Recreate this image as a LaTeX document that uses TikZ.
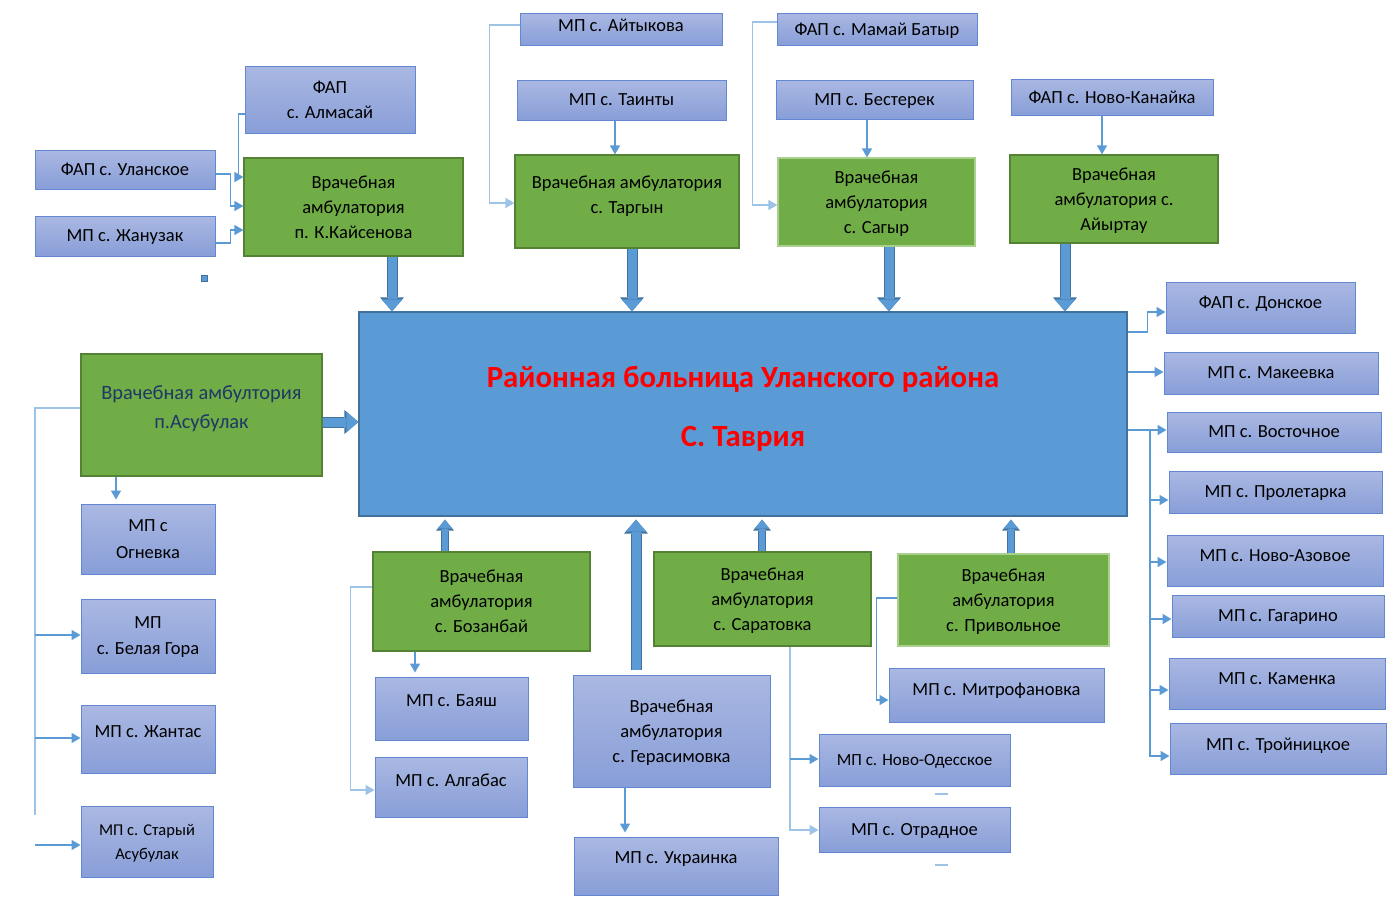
\documentclass[tikz,border=0pt]{standalone}
\usepackage{fontspec}
\setmainfont{Carlito}
\usetikzlibrary{arrows.meta}

\definecolor{mpTop}{RGB}{170,184,226}
\definecolor{mpBot}{RGB}{136,158,216}
\definecolor{mpLine}{RGB}{100,135,210}
\definecolor{vaFill}{RGB}{112,173,71}
\definecolor{vaLine}{RGB}{84,130,53}
\definecolor{vaPale}{RGB}{169,208,142}
\definecolor{hospFill}{RGB}{91,155,213}
\definecolor{hospLine}{RGB}{65,113,156}
\definecolor{linkCol}{RGB}{91,155,213}
\definecolor{linkPale}{RGB}{157,195,230}
\definecolor{asuText}{RGB}{31,56,100}

\tikzset{
  box/.style 2 args={minimum width=#1pt, minimum height=#2pt},
  lift/.style={text depth=#1pt},
  mp/.style={draw=mpLine, line width=1pt, top color=mpTop, bottom color=mpBot, text depth=0pt,
    inner sep=0pt, align=center, font=\fontsize{18.5}{25}\selectfont},
  va/.style={draw=vaLine, line width=1.2pt, fill=vaFill, text depth=0pt,
    inner sep=0pt, align=center, font=\fontsize{18.5}{25}\selectfont},
  hosp/.style={draw=hospLine, line width=1.3pt, fill=hospFill, text=red,
    inner sep=0pt, align=center, font=\bfseries\fontsize{30.8}{35}\selectfont},
  link/.style={draw=linkCol, line width=1.5pt, -{Triangle[width=10pt,length=9pt]}},
  wire/.style={draw=linkPale, line width=1.2pt},
  feed/.style={draw=hospFill, line width=9pt, -{Triangle[width=21pt,length=12pt,line width=0pt]},
    preaction={draw=hospLine, line width=11pt, -{Triangle[width=24pt,length=14pt,line width=0pt]}}},
  smallfeed/.style={draw=hospFill, line width=6pt, -{Triangle[width=15pt,length=9pt,line width=0pt]},
    preaction={draw=hospLine, line width=8pt, -{Triangle[width=18pt,length=11pt,line width=0pt]}}}
}

\begin{document}
\begin{tikzpicture}[x=1pt, y=-1pt]
  \useasboundingbox (0,0) rectangle (1396,903);

  % central hospital
  \node[hosp, box={768}{204}, lift=15] (hosp) at (743,414)
    {Районная больница Уланского района\\[24pt]С. Таврия};

  % top left: Kaisenova
  \node[mp, box={170}{67}] (alm) at (330,99.5) {ФАП\\с. Алмасай};
  \node[mp, box={180}{39}] (ulan) at (125,169.5) {ФАП с. Уланское};
  \node[mp, box={180}{40}] (zhan) at (125,236) {МП с. Жанузак};
  \node[va, box={219}{98}] (kais) at (353.5,207) {Врачебная\\амбулатория\\п. К.Кайсенова};
  \draw[draw=hospLine, fill=hospFill] (201,275) rectangle (207,281);

  \draw[link] (alm.west |- 0,114) -- ++(-6,0) |- (kais.west |- 0,177);
  \draw[link] (ulan.east |- 0,174) -- ++(15,0) |- (kais.west |- 0,206);
  \draw[link] (zhan.east |- 0,243) -- ++(15,0) |- (kais.west |- 0,230);

  % top middle: Targyn
  \node[mp, box={202}{32}, lift=8] (ait) at (621,29) {МП с. Айтыкова};
  \node[mp, box={209}{40}] (tain) at (621.5,100) {МП с. Таинты};
  \node[va, box={224}{93}, lift=14] (targ) at (627,201.5) {Врачебная амбулатория\\с. Таргын};
  \draw[link, draw=linkPale, line width=1.2pt] (ait.west |- 0,25) -- ++(-30,0) |- (targ.west |- 0,203);
  \draw[link] (tain.south -| 615,0) -- (targ.north -| 615,0);

  % top middle: Sagyr
  \node[mp, box={200}{32}] (mam) at (877,29) {ФАП с. Мамай Батыр};
  \node[mp, box={197}{39}] (best) at (874.5,99.5) {МП с. Бестерек};
  \node[va, draw=vaPale, box={197}{88}] (sag) at (876.5,202) {Врачебная\\амбулатория\\с. Сагыр};
  \draw[link, draw=linkPale, line width=1.2pt] (mam.west |- 0,22) -- ++(-24,0) |- (sag.west |- 0,205);
  \draw[link] (best.south -| 867,0) -- (sag.north -| 867,0);

  % top right: Aiyrtau
  \node[mp, box={202}{36}] (nkan) at (1112,97) {ФАП с. Ново-Канайка};
  \node[va, box={208}{88}] (ayr) at (1114,199) {Врачебная\\амбулатория с.\\Айыртау};
  \draw[link] (nkan.south -| 1102,0) -- (ayr.north -| 1102,0);

  % ambulatories into the hospital
  \draw[feed] (kais.south -| 392,0) -- (hosp.north -| 392,0);
  \draw[feed] (targ.south -| 632,0) -- (hosp.north -| 632,0);
  \draw[feed] (sag.south -| 889,0) -- (hosp.north -| 889,0);
  \draw[feed] (ayr.south -| 1065,0) -- (hosp.north -| 1065,0);

  % left: Asubulak
  \node[va, box={241}{122}, text=asuText, lift=15, font=\fontsize{20.4}{29}\selectfont] (asu) at (201.5,415)
    {Врачебная амбултория\\п.Асубулак};
  \node[mp, box={134}{70}, font=\fontsize{18.5}{27}\selectfont] (ogn) at (148,539) {МП с\\Огневка};
  \node[mp, box={134}{74}, font=\fontsize{18.5}{26}\selectfont] (bel) at (148,636) {МП\\с. Белая Гора};
  \node[mp, box={134}{68}, lift=14] (zhant) at (148,739) {МП с. Жантас};
  \node[mp, box={132}{71}, font=\fontsize{16.5}{24}\selectfont] (star) at (147,841.5) {МП с. Старый\\Асубулак};
  \draw[feed] (asu.east |- 0,422) -- (hosp.west |- 0,422);
  \draw[link] (asu.south -| 116,0) -- ([yshift=4pt]ogn.north -| 116,0);

  \coordinate (busL) at (35,408);
  \coordinate (busLend) at (35,815);
  \coordinate (busLlow) at (35,845);
  \draw[wire] (asu.west |- busL) -- (busL) -- (busLend);
  \draw[link] (busL |- 0,635) -- (bel.west |- 0,635);
  \draw[link] (busL |- 0,738) -- (zhant.west |- 0,738);
  \draw[link] (busLlow) -- (star.west |- busLlow);

  % bottom: Bozanbai and Gerasimovka
  \node[va, box={217}{99}] (boz) at (481.5,601.5) {Врачебная\\амбулатория\\с. Бозанбай};
  \node[mp, box={153}{63}, lift=16] (bay) at (451.5,708.5) {МП с. Баяш};
  \node[mp, box={152}{60}, lift=14] (alg) at (451,787) {МП с. Алгабас};
  \node[mp, box={197}{112}] (ger) at (671.5,731) {Врачебная\\амбулатория\\с. Герасимовка};
  \node[mp, box={204}{58}, lift=16] (ukr) at (676,866) {МП с. Украинка};
  \draw[smallfeed, shorten >=3pt] (boz.north -| 445,0) -- (hosp.south -| 445,0);
  \draw[feed, shorten <=5pt, shorten >=3pt] (ger.north -| 636,0) -- (hosp.south -| 636,0);
  \draw[link] (boz.south -| 415,0) -- ([yshift=4pt]bay.north -| 415,0);
  \draw[link, draw=linkPale, line width=1.2pt] (boz.west |- 0,587) -- ++(-22,0) |- (alg.west |- 0,790);
  \draw[link] (ger.south -| 625,0) -- ([yshift=4pt]ukr.north -| 625,0);

  % bottom: Saratovka and Privolnoe
  \node[va, box={217}{94}] (sar) at (762.5,599) {Врачебная\\амбулатория\\с. Саратовка};
  \node[va, draw=vaPale, box={211}{92}] (priv) at (1003.5,600) {Врачебная\\амбулатория\\с. Привольное};
  \node[mp, box={215}{54}, lift=12] (mit) at (996.5,695) {МП с. Митрофановка};
  \node[mp, box={191}{52}, font=\fontsize{17}{24}\selectfont] (nod) at (914.5,760) {МП с. Ново-Одесское};
  \node[mp, box={191}{45}] (otr) at (914.5,829.5) {МП с. Отрадное};
  \draw[smallfeed, shorten >=3pt] (sar.north -| 762,0) -- (hosp.south -| 762,0);
  \draw[smallfeed, shorten >=3pt] (priv.north -| 1011,0) -- (hosp.south -| 1011,0);
  \draw[link, draw=linkPale, line width=1.2pt] (sar.south -| 790,0) |- (otr.west |- 0,830);
  \draw[link] (790,759) -- (nod.west |- 0,759);
  \draw[link] (priv.west |- 0,598) -- ++(-21,0) |- (mit.west |- 0,700);
  \draw[linkPale, line width=1.5pt] (935,794) -- (948,794);
  \draw[linkPale, line width=1.5pt] (935,865) -- (948,865);

  % right column
  \node[mp, box={189}{51}, lift=10] (don) at (1260.5,307.5) {ФАП с. Донское};
  \node[mp, box={214}{42}] (mak) at (1271,373) {МП с. Макеевка};
  \node[mp, box={214}{40}] (vost) at (1274,432) {МП с. Восточное};
  \node[mp, box={213}{42}] (prol) at (1275.5,492) {МП с. Пролетарка};
  \node[mp, box={216}{51}, lift=10] (nazov) at (1275,560.5) {МП с. Ново-Азовое};
  \node[mp, box={212}{42}] (gag) at (1278,616) {МП с. Гагарино};
  \node[mp, box={216}{51}, lift=10] (kam) at (1277,683.5) {МП с. Каменка};
  \node[mp, box={216}{51}, lift=8] (troy) at (1278,748.5) {МП с. Тройницкое};

  \coordinate (busR) at (1150,430);
  \draw[link] (hosp.east |- 0,332) -- ++(20,0) |- (don.west |- 0,312);
  \draw[link] (hosp.east |- 0,372) -- (mak.west |- 0,372);
  \draw[link] (hosp.east |- busR) -- (vost.west |- busR);
  \draw[link] (busR) |- (troy.west |- 0,756);
  \draw[link] (busR |- 0,500) -- (prol.west |- 0,500);
  \draw[link] (busR |- 0,562) -- (nazov.west |- 0,562);
  \draw[link] (busR |- 0,619) -- (gag.west |- 0,619);
  \draw[link] (busR |- 0,690) -- (kam.west |- 0,690);
\end{tikzpicture}
\end{document}
